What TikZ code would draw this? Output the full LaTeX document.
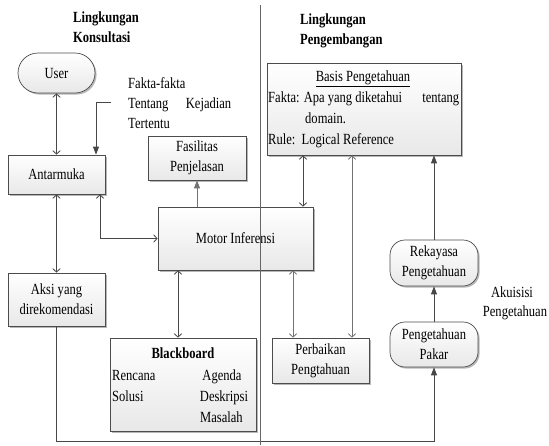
\documentclass[tikz,border=0pt]{standalone}
\usepackage{fontspec}
\setmainfont{Liberation Serif}[FakeStretch=0.81]
\usetikzlibrary{arrows.meta,shadows}
\begin{document}
\begin{tikzpicture}[x=1pt,y=-1pt,
  every node/.style={font=\fontsize{15.5pt}{20pt}\selectfont, inner sep=0pt},
  box/.style={draw=black!70, line width=0.7pt, top color=white, bottom color=black!9,
    drop shadow={shadow xshift=1.6pt, shadow yshift=-1.6pt, fill=black!40, opacity=0.7},
    align=center},
  stadium/.style={box, rounded corners=#1},
  txt/.style={anchor=base west},
  ctxt/.style={anchor=base},
  hdr/.style={anchor=base west, font=\fontsize{15.5pt}{20pt}\selectfont\bfseries},
  dbl/.style={draw=black!72, line width=0.8pt, {Straight Barb[length=3.5pt,width=7.5pt]}-{Straight Barb[length=3.5pt,width=7.5pt]}},
  dbllight/.style={dbl, draw=black!55},
  sgl/.style={draw=black!72, line width=0.8pt, -{Triangle[length=8pt,width=6pt]}},
  sgllight/.style={sgl, draw=black!55},
  divider/.style={draw=black!60, line width=0.8pt}]
\useasboundingbox (0,0) rectangle (549,445);

% boxes
\node[stadium=20pt, minimum width=77pt, minimum height=40pt] (user) at (56.5,73) {User};
\node[box, minimum width=97pt, minimum height=39pt] (ant) at (56.5,174.5) {Antarmuka};
\node[box, minimum width=98pt, minimum height=44pt] (fas) at (197,158) {Fasilitas\\Penjelasan};
\node[box, minimum width=155pt, minimum height=63pt] (mot) at (235.5,238.5) {Motor Inferensi};
\node[box, minimum width=97pt, minimum height=53pt] (aksi) at (56.5,299.5) {Aksi yang\\direkomendasi};
\node[box, minimum width=146pt, minimum height=93pt] (bb) at (183,384.5) {};
\node[box, minimum width=194pt, minimum height=92pt] (kb) at (364,109) {};
\node[box, minimum width=97pt, minimum height=45pt] (perb) at (320.5,360.5) {Perbaikan\\Pengtahuan};
\node[stadium=15pt, minimum width=88pt, minimum height=46pt] (rek) at (434,263) {Rekayasa\\Pengetahuan};
\node[stadium=15pt, minimum width=88pt, minimum height=45pt] (pak) at (434,344.5) {Pengetahuan\\Pakar};

% headers
\node[hdr] (h1a) at (73,22) {Lingkungan};
\node[hdr] (h1b) at (73,42) {Konsultasi};
\node[hdr] (h2a) at (300,24) {Lingkungan};
\node[hdr] (h2b) at (300,44) {Pengembangan};

% fakta label
\node[txt] (fk1) at (128,88) {Fakta-fakta};
\node[txt] (fk2) at (128,108) {\makebox[103pt][l]{Tentang\hfill Kejadian}};
\node[txt] (fk3) at (128,128) {Tertentu};

% basis content
\node[ctxt] (kbt) at (363,81) {\underline{Basis Pengetahuan}};
\node[txt] (kb1) at (268,102) {\makebox[191pt][l]{Fakta: Apa yang diketahui\hfill tentang}};
\node[txt] (kb2) at (305,123) {domain.};
\node[txt] (kb3) at (268,144) {Rule:\ \ Logical Reference};

% blackboard content
\node[ctxt] (bbt) at (183,358) {\textbf{Blackboard}};
\node[txt] (bb1) at (112,380) {Rencana};
\node[txt] (bb2) at (112,401) {Solusi};
\node[ctxt] (bb3) at (222,380) {Agenda};
\node[ctxt] (bb4) at (224,401) {Deskripsi};
\node[ctxt] (bb5) at (221.5,422) {Masalah};

% akuisisi
\node[ctxt] (ak1) at (512,297) {Akuisisi};
\node[ctxt] (ak2) at (515,316) {Pengetahuan};

% helper coordinates
\coordinate (fk) at (111,102);
\coordinate (c96) at (96,0);
\coordinate (c100) at (100,0);
\coordinate (c178) at (178,0);
\coordinate (c293) at (293,0);
\coordinate (c303) at (303,0);
\coordinate (c352) at (352,0);
\coordinate (bot) at (0,441);
\coordinate (dt) at (260,5);
\coordinate (db) at (260,445);

% connectors
\draw[dbl] (user.south) -- (ant.north);
\draw[sgl] (fk) -| (ant.north -| c96);
\draw[dbl] (ant.south) -- (aksi.north);
\draw[dbl] (ant.south -| c100) |- (mot.west);
\draw[sgllight] (mot.north -| fas.south) -- (fas.south);
\draw[dbl] (mot.south -| c178) -- (bb.north -| c178);
\draw[dbl] (kb.south -| c303) -- (mot.north -| c303);
\draw[dbllight] (mot.south -| c293) -- (perb.north -| c293);
\draw[dbllight] (kb.south -| c352) -- (perb.north -| c352);
\draw[sgl] (rek.north) -- (kb.south -| rek.north);
\draw[sgl] (pak.north) -- (rek.south);
\draw[sgl] (aksi.south) -- (aksi.south |- bot) -| (pak.south);

% divider
\draw[divider] (dt) -- (db);
\end{tikzpicture}
\end{document}
